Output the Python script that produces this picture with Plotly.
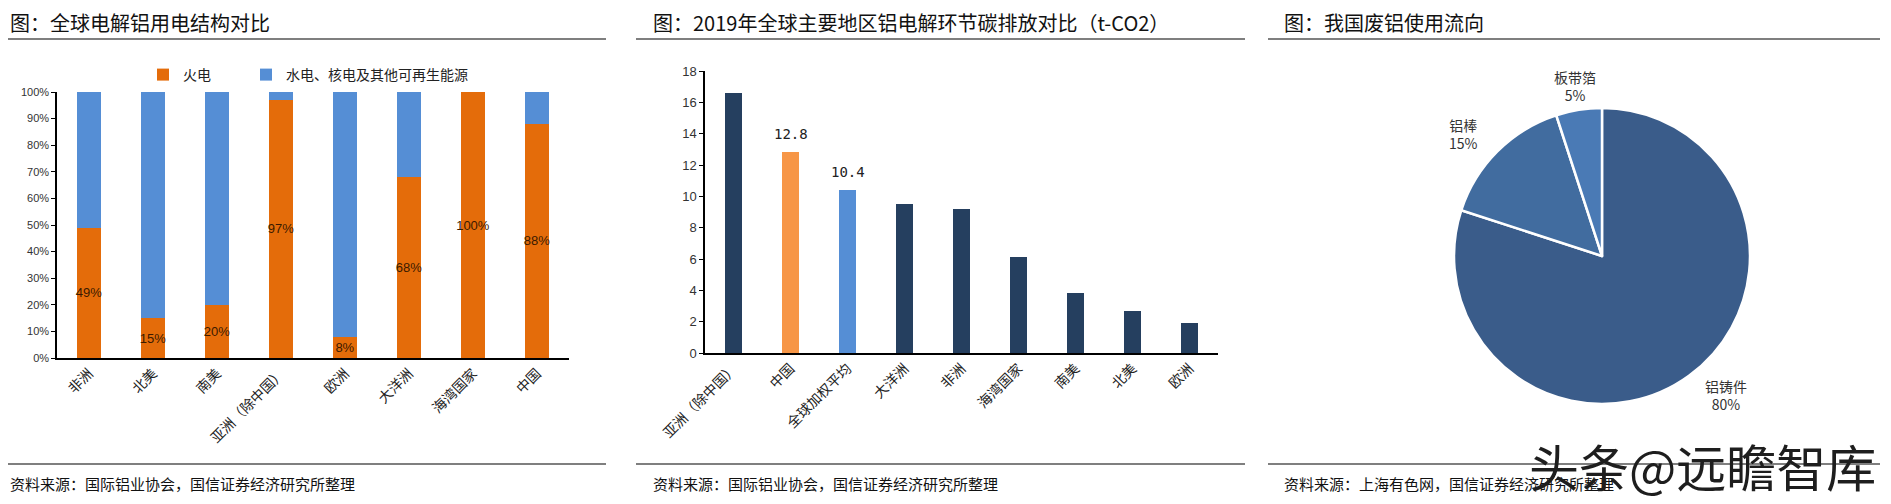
import math
import plotly.graph_objects as go

W, H = 1891, 504
OX, OY = 8, 8  # page body margin offset of the rendered figure

# ---------- data ----------
c1_categories = ["非洲", "北美", "南美", "亚洲（除中国）", "欧洲", "大洋洲", "海湾国家", "中国"]
c1_thermal = [49, 15, 20, 97, 8, 68, 100, 88]
c1_other = [51, 85, 80, 3, 92, 32, 0, 12]
c1_series_names = ["火电", "水电、核电及其他可再生能源"]

c2_categories = ["亚洲（除中国）", "中国", "全球加权平均", "大洋洲", "非洲", "海湾国家", "南美", "北美", "欧洲"]
c2_values = [16.6, 12.8, 10.4, 9.5, 9.2, 6.1, 3.8, 2.7, 1.9]
c2_labelled = ["中国", "全球加权平均"]

c3_labels = ["铝铸件", "铝棒", "板带箔"]
c3_values = [80, 15, 5]

titles = ["图：全球电解铝用电结构对比",
          "图：2019年全球主要地区铝电解环节碳排放对比（t-CO2）",
          "图：我国废铝使用流向"]
sources = ["资料来源：国际铝业协会，国信证券经济研究所整理",
           "资料来源：国际铝业协会，国信证券经济研究所整理",
           "资料来源：上海有色网，国信证券经济研究所整理"]
watermark = "头条@远瞻智库"

# ---------- styles ----------
ORANGE = "#E46C0A"
BLUE = "#558ED5"
NAVY = "#253F5F"
CHINA = "#F79646"
GLOBAL = "#558ED5"
PIE_COLORS = ["#3A5C8A", "#416C9F", "#4A7AB5"]
FONT = "Noto Sans CJK SC"
NUMFONT = "Liberation Sans, Noto Sans CJK SC"


def px(x):
    return max(0.0, (x - OX) / W)


def py(y):
    return 1 - (y - OY) / H


fig = go.Figure()

fig.add_trace(go.Bar(
    x=c1_categories, y=c1_thermal, name=c1_series_names[0],
    marker=dict(color=ORANGE, line=dict(width=0)),
    text=[f"{v}%" for v in c1_thermal], textposition="inside",
    insidetextanchor="middle", textangle=0, constraintext="none",
    textfont=dict(family=NUMFONT, size=13, color="#3b1a00"),
    xaxis="x", yaxis="y", showlegend=True, legend="legend"))
fig.add_trace(go.Bar(
    x=c1_categories, y=c1_other, name=c1_series_names[1],
    marker=dict(color=BLUE, line=dict(width=0)),
    xaxis="x", yaxis="y", showlegend=True, legend="legend2"))

c2_colors = [NAVY] * len(c2_categories)
c2_colors[c2_categories.index("中国")] = CHINA
c2_colors[c2_categories.index("全球加权平均")] = GLOBAL
fig.add_trace(go.Bar(
    x=c2_categories, y=c2_values, width=0.31,
    marker=dict(color=c2_colors, line=dict(width=0)),
    xaxis="x2", yaxis="y2", showlegend=False))

cx, cy, r = 1602, 256, 148
fig.add_trace(go.Pie(
    labels=c3_labels, values=c3_values, sort=False, direction="clockwise",
    rotation=0, textinfo="none",
    marker=dict(colors=PIE_COLORS, line=dict(color="white", width=2.5)),
    domain=dict(x=[px(cx - r), px(cx + r)], y=[py(cy + r), py(cy - r)]),
    showlegend=False, hoverinfo="label+percent"))

legend_common = dict(orientation="h", yanchor="middle", xanchor="left",
                     font=dict(size=14, color="#222"), itemwidth=30,
                     bgcolor="rgba(0,0,0,0)")

fig.update_layout(
    width=W, height=H,
    margin=dict(l=0, r=0, t=0, b=0, pad=0),
    paper_bgcolor="white", plot_bgcolor="white",
    font=dict(family=FONT, color="#333"),
    barmode="stack",
    bargap=0.61,
    legend=dict(x=px(143), y=py(75), **legend_common),
    legend2=dict(x=px(246), y=py(75), **legend_common),
    xaxis=dict(domain=[px(57), px(569)], showline=True, linecolor="black", linewidth=1.5,
               ticks="", tickangle=-45, tickfont=dict(size=14, color="#222"),
               showgrid=False, anchor="y", automargin=False),
    yaxis=dict(domain=[py(358), py(92)], range=[0, 100], dtick=10, ticksuffix="%",
               showline=True, linecolor="black", linewidth=1.5, ticks="outside",
               ticklen=4, tickcolor="black", tickfont=dict(family=NUMFONT, size=11, color="#333"),
               showgrid=False, zeroline=False, anchor="x", automargin=False),
    xaxis2=dict(domain=[px(705), px(1218)], showline=True, linecolor="black", linewidth=1.5,
                ticks="", tickangle=-45, tickfont=dict(size=14, color="#222"),
                showgrid=False, anchor="y2", automargin=False),
    yaxis2=dict(domain=[py(353), py(71)], range=[0, 18], dtick=2,
                showline=True, linecolor="black", linewidth=1.5, ticks="outside",
                ticklen=4, tickcolor="black", tickfont=dict(family=NUMFONT, size=13, color="#333"),
                showgrid=False, zeroline=False, anchor="x2", automargin=False),
)

shapes = []
annotations = []

# value labels above highlighted bars of chart 2 (data coordinates)
for cat in c2_labelled:
    v = c2_values[c2_categories.index(cat)]
    annotations.append(dict(text=f"{v}", x=cat, y=v, xref="x2", yref="y2",
                            xanchor="center", yanchor="bottom", yshift=8, showarrow=False,
                            font=dict(family="DejaVu Sans Mono, Noto Sans CJK SC", size=14,
                                      color="#222")))

# pie labels placed outside along each slice's mid-angle (derived from the values)
total = sum(c3_values)
cum = 0.0
label_dist = 172
for lab, v in zip(c3_labels, c3_values):
    mid = (cum + v / 2) / total * 2 * math.pi  # clockwise from 12 o'clock
    cum += v
    s, c = math.sin(mid), math.cos(mid)
    lx = cx + label_dist * s
    ly = cy - label_dist * c
    anchor = "center" if abs(s) < 0.3 else ("left" if s > 0 else "right")
    annotations.append(dict(text=f"{lab}<br>{v / total:.0%}", xref="paper", yref="paper",
                            x=px(lx), y=py(ly), xanchor=anchor, yanchor="middle",
                            showarrow=False, font=dict(size=14, color="#333")))

panel_x = [(0, 606, 8), (636, 1245, 651), (1268, 1880, 1282)]
for i, (x0, x1, tx) in enumerate(panel_x):
    shapes.append(dict(type="line", xref="paper", yref="paper", x0=px(x0), x1=px(x1),
                       y0=py(39), y1=py(39), line=dict(color="#7f7f7f", width=2)))
    shapes.append(dict(type="line", xref="paper", yref="paper", x0=px(x0), x1=px(x1),
                       y0=py(464), y1=py(464), line=dict(color="#7f7f7f", width=2)))
    annotations.append(dict(text=titles[i], xref="paper", yref="paper", x=px(tx), y=py(22),
                            xanchor="left", yanchor="middle", showarrow=False,
                            font=dict(size=20, color="#111")))
    annotations.append(dict(text=sources[i], xref="paper", yref="paper", x=px(tx), y=py(483),
                            xanchor="left", yanchor="middle", showarrow=False,
                            font=dict(size=15, color="#111")))

annotations.append(dict(text=watermark, xref="paper", yref="paper", x=px(1702), y=py(465),
                        xanchor="center", yanchor="middle", showarrow=False,
                        font=dict(size=50, color="#1e1e1e")))
fig.update_layout(shapes=shapes, annotations=annotations)

fig.write_html("out.html")
